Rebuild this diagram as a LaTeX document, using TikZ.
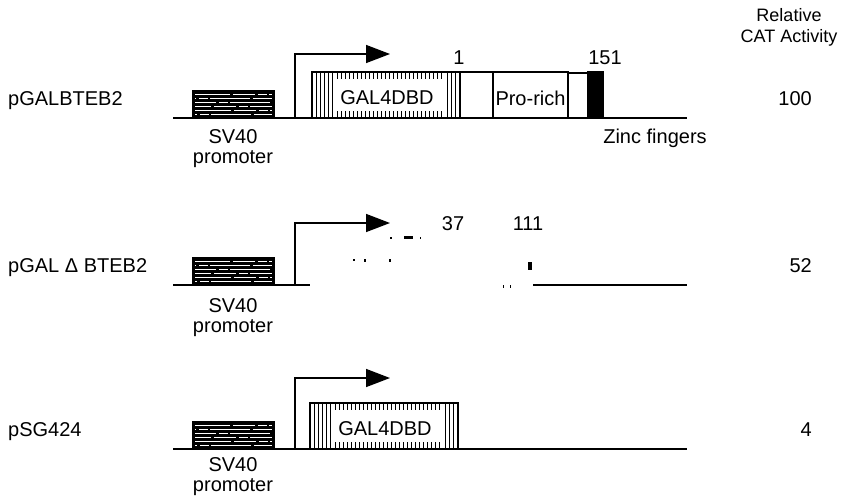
\documentclass[tikz,border=0pt]{standalone}
\usepackage{fontspec}
\setmainfont{Liberation Sans}
\usepackage{tikz}
\usetikzlibrary{arrows.meta,positioning,calc}
\tikzset{
  lbl/.style={font=\fontsize{20}{22}\selectfont,inner sep=0pt,anchor=base},
  plbl/.style={lbl,anchor=base west},
  vlbl/.style={lbl,anchor=base east},
  dna/.style={line width=1.8pt},
  seg/.style={draw,line width=1.4pt,fill=white},
  hatch/.style={line width=1pt},
  tss/.style={-{Triangle[length=24pt,width=18pt]},line width=1.5pt},
}
\begin{document}
\begin{tikzpicture}[x=1pt,y=-1pt]
    \useasboundingbox (0,0) rectangle (841,501);
    % header of the activity column
    \node[font=\fontsize{18}{21}\selectfont,align=center,inner sep=0pt] (hdr) at (789,27) {Relative\\CAT Activity};
    % the three constructs: name, baseline, arrow height, label offsets, activity
    \foreach \r/\n/\y/\h/\sa/\sb/\v in {a/pGALBTEB2/118/64/25/45/100, b/{pGAL Δ BTEB2}/285/62/27/47/52, c/pSG424/449/71/22/42/4}{
      \node[plbl] (name\r) at (8,\y-13) {\n};
      \node[vlbl] (cat\r) at (812,\y-13) {\v};
      \coordinate (in\r) at (173,\y);
      \coordinate (out\r) at (687,\y);
      \fill (193,\y) rectangle (274,\y-27);
      \foreach \k in {4,8,...,24}
        \draw[white,line width=0.9pt,dash pattern=on 22pt off 3pt on 9pt off 2pt on 40pt off 3pt,dash phase=\k*5pt] (195,\y-\k) -- (272,\y-\k);
      \draw[line width=1.2pt] (193,\y) rectangle (274,\y-27);
      \node[lbl] (sv\r) at (233,\y+\sa) {SV40};
      \node[lbl] (pr\r) at (233,\y+\sb) {promoter};
      \coordinate (tss\r) at (295,\y);
      \coordinate (knee\r) at (295,\y-\h);
      \coordinate (tip\r) at (390,\y-\h);
      \draw[tss] (tss\r) -- (knee\r) -- (tip\r);}
    % DNA lines
    \draw[dna] (ina) -- (outa);
    \draw[dna] (inb) -- (310,285);
    \draw[dna] (533,285) -- (outb);
    \draw[dna] (inc) -- (outc);
    % GAL4 DNA binding domain
    \foreach \r/\x/\y in {a/312/118, c/310/449}{
      \begin{scope}[shift={(\x,\y)}]
        \draw[seg] (0,0) rectangle (148,-46);
        \foreach \i in {4,8,...,20} \draw[hatch] (\i,0) -- (\i,-46);
        \foreach \i in {25,29,...,130} {\draw[hatch] (\i,0) -- (\i,-7); \draw[hatch] (\i,-46) -- (\i,-39);}
        \foreach \i in {135,139,143} \draw[hatch] (\i,0) -- (\i,-46);
        \node[lbl] (gal\r) at (75,-14) {GAL4DBD};
      \end{scope}}
    % BTEB2 part
    \draw[seg] (460,118) rectangle (493,72);
    \draw[seg] (493,118) rectangle (568,72);
    \node[lbl] (pro) at (530.5,105) {Pro-rich};
    \draw[seg] (568,118) rectangle (588,73);
    \draw[line width=1.4pt,fill=black] (588,118) rectangle (603,72);
    \node[lbl] (posa) at (459,64) {1};
    \node[lbl] (posb) at (605,64) {151};
    \node[lbl] (zinc) at (655,143) {Zinc fingers};
    \node[lbl] (posc) at (453,230) {37};
    \node[lbl] (posd) at (528,230) {111};
    % remains of the deleted part
    \foreach \a/\b/\c/\d in {390/237/392/239, 404/236/413/239, 420/237/421/239, 353/259/355/261, 364/259/366/262, 389/259/391/262, 528/262/532/270, 503/285/504/288, 510/285/511/288}
      \fill (\a,\b) rectangle (\c,\d);
  \end{tikzpicture}
\end{document}
